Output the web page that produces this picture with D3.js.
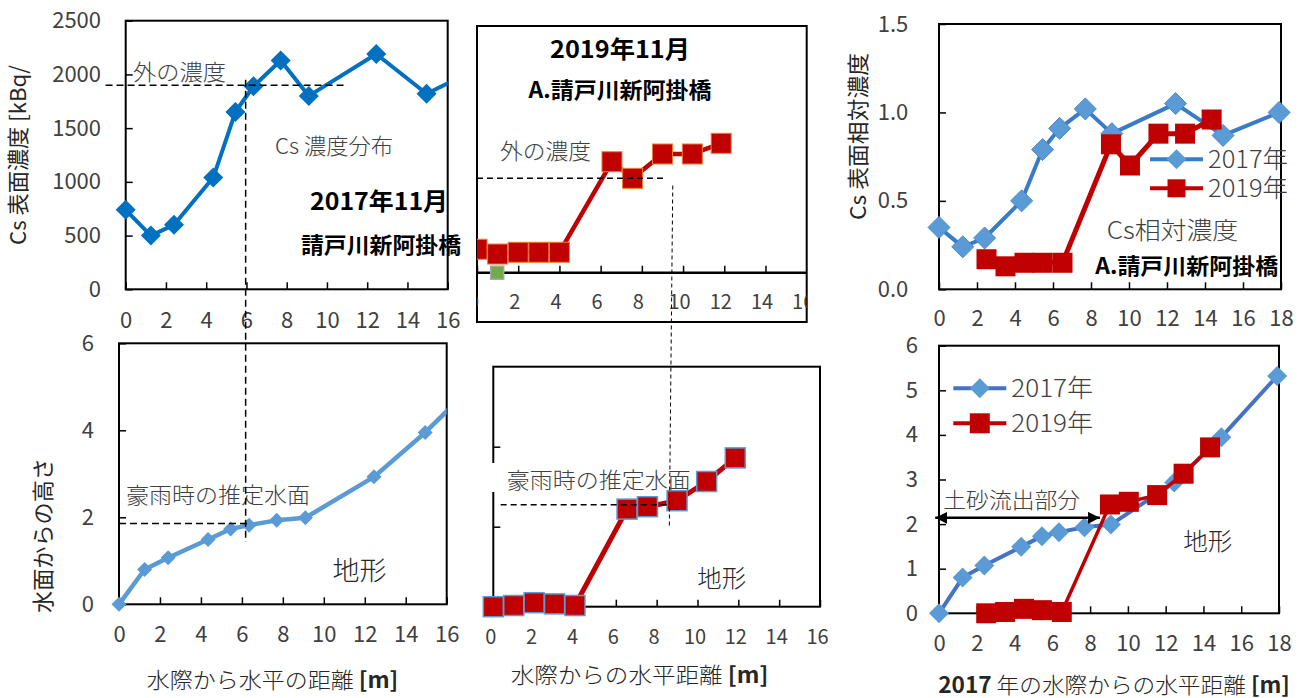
<!DOCTYPE html>
<html>
<head>
<meta charset="utf-8">
<script src="https://cdnjs.cloudflare.com/ajax/libs/d3/7.8.5/d3.min.js"></script>
<style>
body { margin: 0; background: #fff; }
text { font-family: "Noto Sans CJK JP", "Noto Sans", sans-serif; font-weight: 300; }
.tick text { font-weight: 400; }
</style>
</head>
<body>
<div id="fig"></div>
<script>
// 2017 survey, distance from the 2017 water edge [m]
var dist2017 = [0, 1.25, 2.4, 4.35, 5.45, 6.35, 7.7, 9.1, 12.45, 14.95, 17.9];
var cs2017 = [740, 500, 600, 1040, 1650, 1890, 2130, 1800, 2190, 1820, 2090];   // kBq/m2
var rel2017 = [0.35, 0.24, 0.29, 0.50, 0.79, 0.91, 1.02, 0.88, 1.05, 0.87, 1.0];
var topo2017 = [0, 0.8, 1.07, 1.49, 1.73, 1.82, 1.93, 1.99, 2.93, 3.95, 5.32];   // m

// 2019 survey, own water edge and the same points on the 2017 distance
var dist2019 = [0, 1, 2, 3, 4, 6.55, 7.55, 9.0, 10.45, 11.85];
var dist2019on2017 = [2.5, 3.5, 4.5, 5.45, 6.5, 9.05, 10.05, 11.55, 12.95, 14.35];
var cs2019 = [360, 287, 314, 314, 314, 1706, 1451, 1825, 1825, 1989];
var rel2019 = [0.17, 0.13, 0.15, 0.15, 0.15, 0.82, 0.70, 0.88, 0.88, 0.96];
var topo2019 = [0, 0.03, 0.1, 0.07, 0.03, 2.44, 2.5, 2.65, 3.13, 3.72];
var strayDist = [0.98], strayVal = [0];

var ticks16 = [0, 2, 4, 6, 8, 10, 12, 14, 16];
var ticks18 = [0, 2, 4, 6, 8, 10, 12, 14, 16, 18];
var csTicks = [0, 500, 1000, 1500, 2000, 2500];
var relTicks = [0, 0.5, 1.0, 1.5];
var topoTicks = [0, 2, 4, 6];
var topoTicks1 = [0, 1, 2, 3, 4, 5, 6];

var svg = d3.select("#fig").append("svg")
    .attr("width", 1304)
    .attr("height", 698);
var defs = svg.append("defs");

function pairs(xs, ys) { return xs.map(function(d, i) { return [d, ys[i]]; }); }
function diamond(r) { return "M0," + (-r) + "L" + r + ",0L0," + r + "L" + (-r) + ",0Z"; }

function clip(id, x0, y0, w, h) {
    defs.append("clipPath").attr("id", id)
        .append("rect").attr("x", x0).attr("y", y0).attr("width", w).attr("height", h);
    return "url(#" + id + ")";
}

function box(g, x, y) {
    g.append("rect")
        .attr("x", x.range()[0]).attr("y", y.range()[1])
        .attr("width", x.range()[1] - x.range()[0])
        .attr("height", y.range()[0] - y.range()[1])
        .attr("fill", "none").attr("stroke", "#000").attr("stroke-width", 2);
}

function xAxis(g, x, y0, ticks, fs, pad, shift) {
    var ax = g.append("g").attr("transform", "translate(0," + y0 + ")")
        .call(d3.axisBottom(x).tickValues(ticks).tickSizeInner(-7).tickSizeOuter(0).tickPadding(pad));
    ax.select(".domain").remove();
    ax.selectAll("line").attr("stroke", "#000").attr("stroke-width", 1.5);
    ax.selectAll("text").attr("font-size", fs).attr("fill", "#404040").attr("dx", shift || 0);
}

function yAxis(g, y, x0, ticks, fs, pad, fmt) {
    var ax = g.append("g").attr("transform", "translate(" + x0 + ",0)")
        .call(d3.axisLeft(y).tickValues(ticks).tickSizeInner(-7).tickSizeOuter(0).tickPadding(pad).tickFormat(fmt));
    ax.select(".domain").remove();
    ax.selectAll("line").attr("stroke", "#000").attr("stroke-width", 1.5);
    ax.selectAll("text").attr("font-size", fs).attr("fill", "#404040");
}

function series(g, x, y, xs, ys, o) {
    var data = pairs(xs, ys);
    if (o.lw) {
        g.append("path").datum(data)
            .attr("d", d3.line().x(function(d) { return x(d[0]); }).y(function(d) { return y(d[1]); }))
            .attr("fill", "none").attr("stroke", o.line).attr("stroke-width", o.lw)
            .attr("stroke-linejoin", "round");
    }
    var m = g.selectAll(null).data(data).enter();
    if (o.shape == "diamond") {
        m.append("path")
            .attr("transform", function(d) { return "translate(" + x(d[0]) + "," + y(d[1]) + ")"; })
            .attr("d", diamond(o.r))
            .attr("fill", o.fill).attr("stroke", o.edge || "none").attr("stroke-width", 1);
    } else {
        m.append("rect")
            .attr("x", function(d) { return x(d[0]) - o.r; })
            .attr("y", function(d) { return y(d[1]) - o.r; })
            .attr("width", 2 * o.r).attr("height", 2 * o.r)
            .attr("fill", o.fill).attr("stroke", o.edge || "none").attr("stroke-width", o.ew || 1);
    }
}

function label(g, txt, cx, cy, o) {
    o = o || {};
    var t = g.append("text")
        .attr("x", cx).attr("y", cy).attr("dy", "0.35em")
        .attr("text-anchor", o.anchor || "middle")
        .attr("font-size", o.size || 22)
        .style("font-weight", o.bold ? "bold" : (o.weight || null))
        .attr("fill", o.bold ? "#000" : (o.color || "#404040"))
        .text(txt);
    if (o.len) t.attr("textLength", o.len).attr("lengthAdjust", "spacingAndGlyphs");
    if (o.rotate) t.attr("transform", "rotate(-90," + cx + "," + cy + ")");
    return t;
}

function dashed(g, x1, y1, x2, y2, w, dash) {
    g.append("line").attr("x1", x1).attr("y1", y1).attr("x2", x2).attr("y2", y2)
        .attr("stroke", "#000").attr("stroke-width", w).attr("stroke-dasharray", dash);
}

// ---------- panel 1: Cs concentration 2017 ----------
var x1 = d3.scaleLinear([0, 16], [125.7, 447.7]);
var y1 = d3.scaleLinear([0, 2500], [289.3, 20.7]);
var g1 = svg.append("g");
box(g1, x1, y1);
xAxis(g1, x1, 289.3, ticks16, 22, 23);
yAxis(g1, y1, 125.7, csTicks, 22, 24.7, d3.format("d"));
series(g1.append("g").attr("clip-path", clip("c1", 0, 0, 447.7, 330)), x1, y1, dist2017, cs2017,
    {line: "#0070C0", lw: 4, shape: "diamond", r: 10, fill: "#0070C0"});
label(g1, "外の濃度", 179.5, 72.7, {len: 93});
label(g1, "Cs 濃度分布", 334, 146.7, {len: 118});
label(g1, "2017年11月", 379, 202, {bold: true, size: 24, len: 138});
label(g1, "請戸川新阿掛橋", 381, 245, {bold: true, size: 22, len: 160});
label(g1, "Cs 表面濃度  [kBq/", 18, 155, {rotate: true, len: 180, color: "#262626", weight: 400});

// ---------- panel 2: Cs concentration 2019 ----------
var x2 = d3.scaleLinear([0, 16], [477, 806.7]);
var y2 = d3.scaleLinear([0, 2000], [272.7, 142.6]);
var g2 = svg.append("g");
g2.append("rect").attr("x", 477).attr("y", 26).attr("width", 329.7).attr("height", 296)
    .attr("fill", "#fff").attr("stroke", "#000").attr("stroke-width", 2);
var g2c = g2.append("g").attr("clip-path", clip("c2", 477, 26, 329.7, 296));
xAxis(g2c, x2, 272.7, ticks16, 20, 22, -4);
g2c.append("line").attr("x1", 477).attr("x2", 806.7).attr("y1", 272.7).attr("y2", 272.7)
    .attr("stroke", "#000").attr("stroke-width", 2.5);
series(g2c, x2, y2, strayDist, strayVal, {shape: "rect", r: 6.5, fill: "#70AD47", edge: "#A5A5A5", ew: 1.5});
series(g2c, x2, y2, dist2019, cs2019,
    {line: "#C00000", lw: 4.5, shape: "rect", r: 10, fill: "#C00000", edge: "#ED7D31"});
label(g2, "2019年11月", 620, 50, {bold: true, size: 24, len: 140});
label(g2, "A.請戸川新阿掛橋", 620, 90.7, {bold: true, size: 22, len: 183});
label(g2, "外の濃度", 545.5, 151.7, {len: 91});

// ---------- panel 3: relative concentration ----------
var x3 = d3.scaleLinear([0, 18], [939, 1281]);
var y3 = d3.scaleLinear([0, 1.5], [289.3, 24]);
var g3 = svg.append("g");
box(g3, x3, y3);
xAxis(g3, x3, 289.3, ticks18, 22, 21.3);
yAxis(g3, y3, 939, relTicks, 22, 30.7, d3.format(".1f"));
series(g3, x3, y3, dist2017, rel2017,
    {line: "#3A7BC8", lw: 4, shape: "diamond", r: 11, fill: "#5B9BD5", edge: "#4A89CF"});
series(g3, x3, y3, dist2019on2017, rel2019,
    {line: "#C00000", lw: 5, shape: "rect", r: 10, fill: "#C00000"});
label(g3, "Cs 表面相対濃度", 858.3, 136.5, {rotate: true, len: 167, color: "#262626", weight: 400});
label(g3, "Cs相対濃度", 1172.5, 231, {size: 24, len: 131.6});
label(g3, "A.請戸川新阿掛橋", 1186.7, 266.7, {bold: true, size: 22, len: 183});

function legend(g, lx, ly, gap, o17, o19, tlen) {
    [[o17, "2017年"], [o19, "2019年"]].forEach(function(e, i) {
        var yy = ly + i * gap;
        g.append("line").attr("x1", lx).attr("x2", lx + 53).attr("y1", yy).attr("y2", yy)
            .attr("stroke", e[0].line).attr("stroke-width", 4);
        if (e[0].shape == "diamond") {
            g.append("path").attr("transform", "translate(" + (lx + 26.5) + "," + yy + ")")
                .attr("d", diamond(e[0].r)).attr("fill", e[0].fill);
        } else {
            g.append("rect").attr("x", lx + 26.5 - e[0].r).attr("y", yy - e[0].r)
                .attr("width", 2 * e[0].r).attr("height", 2 * e[0].r).attr("fill", e[0].fill);
        }
        label(g, e[1], lx + 58, yy, {anchor: "start", size: 25, len: tlen});
    });
}
legend(g3, 1150, 159.3, 29,
    {line: "#3A7BC8", shape: "diamond", r: 10, fill: "#5B9BD5"},
    {line: "#C00000", shape: "rect", r: 9, fill: "#C00000"}, 80);

// ---------- panel 4: topography 2017 ----------
var x4 = d3.scaleLinear([0, 16], [119, 446.7]);
var y4 = d3.scaleLinear([0, 6], [604.3, 343.3]);
var g4 = svg.append("g");
box(g4, x4, y4);
xAxis(g4, x4, 604.3, ticks16, 22, 22);
yAxis(g4, y4, 119, topoTicks, 22, 25, d3.format("d"));
series(g4.append("g").attr("clip-path", clip("c4", 0, 330, 446.7, 300)), x4, y4, dist2017, topo2017,
    {line: "#5B9BD5", lw: 4.5, shape: "diamond", r: 7.5, fill: "#5B9BD5"});
label(g4, "豪雨時の推定水面", 217.9, 495.7, {len: 184});
label(g4, "地形", 359.5, 570.7, {size: 26, len: 54, color: "#262626"});
label(g4, "水面からの高さ", 43.3, 535.5, {rotate: true, len: 155, color: "#262626", weight: 400});
var t4 = label(g4, "", 272.5, 680, {len: 251.6, color: "#262626"});
t4.append("tspan").text("水際から水平の距離 ");
t4.append("tspan").style("font-weight", "bold").text("[m]");

// ---------- panel 5: topography 2019 ----------
var x5 = d3.scaleLinear([0, 16], [493.3, 820]);
var y5 = d3.scaleLinear([0, 6], [606.7, 366.7]);
var g5 = svg.append("g");
box(g5, x5, y5);
xAxis(g5, x5, 606.7, ticks16, 20, 23, -3);
yAxis(g5, y5, 493.3, [2, 4], 20, 10, function() { return ""; });
g5.append("rect").attr("x", 490).attr("y", 463).attr("width", 204).attr("height", 29).attr("fill", "#fff");
label(g5, "豪雨時の推定水面", 598.7, 480, {len: 184});
series(g5, x5, y5, dist2019, topo2019,
    {line: "#C00000", lw: 5, shape: "rect", r: 10, fill: "#C00000", edge: "#5B9BD5", ew: 1.5});
label(g5, "地形", 721.7, 578.3, {size: 24, len: 48.7, color: "#262626"});
var t5 = label(g5, "", 639.5, 675, {len: 257.6, color: "#262626"});
t5.append("tspan").text("水際からの水平距離 ");
t5.append("tspan").style("font-weight", "bold").text("[m]");

// ---------- panel 6: topography both years ----------
var x6 = d3.scaleLinear([0, 18], [939, 1279]);
var y6 = d3.scaleLinear([0, 6], [613.3, 345.7]);
var g6 = svg.append("g");
box(g6, x6, y6);
xAxis(g6, x6, 613.3, ticks18, 22, 22.3);
yAxis(g6, y6, 939, topoTicks1, 22, 21, d3.format("d"));
series(g6, x6, y6, dist2017, topo2017,
    {line: "#4472C4", lw: 4, shape: "diamond", r: 10, fill: "#5B9BD5"});
series(g6, x6, y6, dist2019on2017, topo2019,
    {line: "#C00000", lw: 3.5, shape: "rect", r: 10, fill: "#C00000"});
legend(g6, 953.3, 388.3, 35,
    {line: "#4472C4", shape: "diamond", r: 10, fill: "#5B9BD5"},
    {line: "#C00000", shape: "rect", r: 10, fill: "#C00000"}, 81.7);
label(g6, "土砂流出部分", 1011.7, 500, {len: 136.7});
label(g6, "地形", 1207.8, 541.7, {size: 24, len: 49, color: "#262626"});
var t6 = label(g6, "", 1114, 685, {len: 351.7, color: "#262626"});
t6.append("tspan").style("font-weight", "bold").text("2017");
t6.append("tspan").text(" 年の水際からの水平距離 ");
t6.append("tspan").style("font-weight", "bold").text("[m]");

// sediment outflow arrow
defs.append("marker").attr("id", "head").attr("viewBox", "0 0 10 10")
    .attr("refX", 10).attr("refY", 5).attr("markerWidth", 12).attr("markerHeight", 12)
    .attr("markerUnits", "userSpaceOnUse").attr("orient", "auto-start-reverse")
    .append("path").attr("d", "M0,0L10,5L0,10Z").attr("fill", "#000");
g6.append("line")
    .attr("x1", x6(-0.2)).attr("x2", x6(8.52)).attr("y1", y6(2.14)).attr("y2", y6(2.14))
    .attr("stroke", "#000").attr("stroke-width", 2.5)
    .attr("marker-start", "url(#head)").attr("marker-end", "url(#head)");

// ---------- guide lines across panels ----------
var guides = svg.append("g");
dashed(guides, x1(-1), y1(1900), x1(10.9), y1(1900), 1.5, "7,4");
dashed(guides, x1(5.96), y1(1950), x1(5.96), y4(1.43), 1.5, "7,4");
dashed(guides, x4(0), y4(1.86), x4(6.3), y4(1.86), 1.5, "7,4");
dashed(guides, x2(0), y2(1451), x2(9.2), y2(1451), 1.5, "6,4");
dashed(guides, x2(9.5), y2(1340), x5(8.62), y5(1.99), 1, "4,3");
dashed(guides, x5(0.36), y5(2.55), x5(8.58), y5(2.55), 1.5, "6,4");
</script>
</body>
</html>
